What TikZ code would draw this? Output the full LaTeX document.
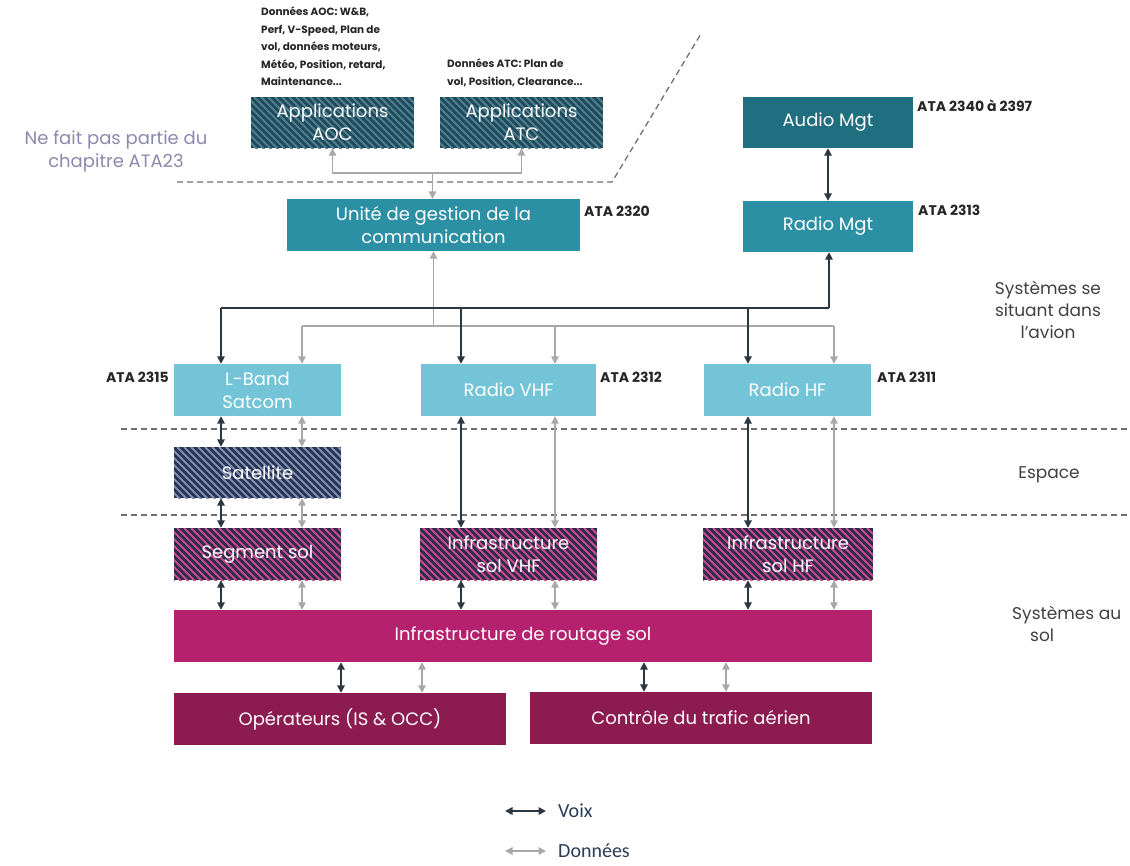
\documentclass[tikz,border=0pt]{standalone}
\usepackage{fontspec}
\setmainfont{Poppins}
\newfontfamily\legfont{Carlito}
\usetikzlibrary{arrows.meta,calc}
\definecolor{appc}{HTML}{1E4A5B}
\definecolor{appstripe}{HTML}{4F808F}
\definecolor{midteal}{HTML}{2C90A5}
\definecolor{darkteal}{HTML}{1F6F80}
\definecolor{lightc}{HTML}{74C4D8}
\definecolor{satc}{HTML}{283354}
\definecolor{satstripe}{HTML}{8090B3}
\definecolor{gndc}{HTML}{2A2B4D}
\definecolor{gndstripe}{HTML}{CC4A8C}
\definecolor{routc}{HTML}{B5216E}
\definecolor{userc}{HTML}{8C1B50}
\definecolor{voicec}{HTML}{2D3741}
\definecolor{datac}{HTML}{A8A8A8}
\definecolor{dashc}{HTML}{707070}
\definecolor{notec}{HTML}{8B89AD}
\definecolor{sidec}{HTML}{404040}
\definecolor{atac}{HTML}{262626}
\definecolor{legc}{HTML}{2B3A55}
\begin{document}
\begin{tikzpicture}[x=1pt,y=-1pt,
  >={Triangle[length=7.5pt,width=7.5pt]},
  box/.style={draw=none, text=white, align=center, inner sep=0pt,
    font=\fontsize{18}{23}\selectfont},
  hatch/.style 2 args={box, fill=#1, path picture={
      \foreach \k in {0,...,45}{
        \draw[line width=2pt, color=#2]
          ([xshift={(\k*7-60)*1pt}]path picture bounding box.north west) -- ++(60pt,-60pt);}}},
  ata/.style={font=\bfseries\fontsize{14}{16}\selectfont, text=atac, inner sep=0pt},
  side/.style={font=\fontsize{17}{22}\selectfont, text=sidec, align=center, inner sep=0pt},
  small/.style={font=\bfseries\fontsize{10.5}{17.5}\selectfont, text=atac, align=left, inner sep=0pt},
  voice/.style={draw=voicec, line width=1.7pt},
  data/.style={draw=datac, line width=1.5pt},
  sep/.style={draw=dashc, line width=1.3pt, dash pattern=on 6pt off 4pt},
  legtext/.style={font=\legfont\fontsize{20}{22}\selectfont, text=legc, inner sep=0pt, anchor=west}
]
\useasboundingbox (0,0) rectangle (1130,865);

% separators
\coordinate (s1) at (177,182);
\coordinate (s2) at (612,182);
\coordinate (s3) at (702,32);
\draw[sep] (s1) -- (s2) -- (s3);
\coordinate (s4) at (121,429);
\coordinate (s5) at (1130,429);
\coordinate (s6) at (121,515);
\coordinate (s7) at (1130,515);
\draw[sep] (s4) -- (s5);
\draw[sep] (s6) -- (s7);

% top notes
\node[small, anchor=north west] (naoc) at (261,7) {Données AOC: W\&B,\\Perf, V-Speed, Plan de\\vol, données moteurs,\\Météo, Position, retard,\\Maintenance...};
\node[small, anchor=north west] (natc) at (447,59) {Données ATC: Plan de\\vol, Position, Clearance...};
\node[font=\fontsize{18}{23}\selectfont, text=notec, align=center, inner sep=0pt] (nota) at (116,151) {Ne fait pas partie du\\chapitre ATA23};

% boxes
\node[hatch={appc}{appstripe}, minimum width=163pt, minimum height=51pt] (aoc) at (332.5,122.5) {Applications\\AOC};
\node[hatch={appc}{appstripe}, minimum width=163pt, minimum height=51pt] (atc) at (521.5,122.5) {Applications\\ATC};
\node[box, fill=midteal, minimum width=293pt, minimum height=52pt] (unite) at (433.5,225) {Unité de gestion de la\\communication};
\node[box, fill=darkteal, minimum width=170pt, minimum height=51pt] (audio) at (828,122.5) {Audio Mgt};
\node[box, fill=midteal, minimum width=170pt, minimum height=51pt] (rmgt) at (828,226.5) {Radio Mgt};

\node[box, fill=lightc, minimum width=167pt, minimum height=52pt] (lband) at (257.5,390) {L-Band\\Satcom};
\node[box, fill=lightc, minimum width=175pt, minimum height=52pt] (vhf) at (508.5,390) {Radio VHF};
\node[box, fill=lightc, minimum width=167pt, minimum height=52pt] (hf) at (787.5,390) {Radio HF};

\node[hatch={satc}{satstripe}, minimum width=167pt, minimum height=51pt] (sat) at (257.5,472.5) {Satellite};
\node[hatch={gndc}{gndstripe}, minimum width=167pt, minimum height=52pt] (seg) at (257.5,554) {Segment sol};
\node[hatch={gndc}{gndstripe}, minimum width=177pt, minimum height=52pt] (ivhf) at (508.5,554) {Infrastructure\\sol VHF};
\node[hatch={gndc}{gndstripe}, minimum width=170pt, minimum height=52pt] (ihf) at (788,554) {Infrastructure\\sol HF};

\node[box, fill=routc, minimum width=698pt, minimum height=52pt] (rout) at (523,636) {Infrastructure de routage sol};
\node[box, fill=userc, minimum width=332pt, minimum height=52pt] (oper) at (340,719) {Opérateurs (IS \& OCC)};
\node[box, fill=userc, minimum width=342pt, minimum height=52pt] (ctrl) at (701,718) {Contrôle du trafic aérien};

% ATA labels
\node[ata, anchor=west] (a2320) at (584,211) {ATA 2320};
\node[ata, anchor=west] (a2340) at (917,106) {ATA 2340 à 2397};
\node[ata, anchor=west] (a2313) at (918,210) {ATA 2313};
\node[ata, anchor=east] (a2315) at (169,377) {ATA 2315};
\node[ata, anchor=west] (a2312) at (600,377) {ATA 2312};
\node[ata, anchor=west] (a2311) at (877,377) {ATA 2311};

% side labels
\node[side] (lav) at (1048,310) {Systèmes se\\situant dans\\l'avion};
\node[side] (lesp) at (1049,475) {Espace};
\node[side, anchor=west, align=left] (lsol) at (1012,624) {Systèmes au\\\hspace*{18pt}sol};

% data links, top
\coordinate (j1) at (432.5,173);
\draw[data,->] (j1) -| (aoc.south);
\draw[data,->] (j1) -| (atc.south);
\draw[data,->] (j1) -- (j1 |- unite.north);

% voice / data links in aircraft
\draw[voice,<->] (audio.south) -- (audio.south |- rmgt.north);
\coordinate (vR) at (829,308);
\coordinate (vL) at (221,308);
\coordinate (vV) at (461,308);
\coordinate (vH) at (748,308);
\coordinate (gU) at (433.5,326);
\coordinate (gL) at (302,326);
\coordinate (gV) at (555,326);
\coordinate (gH) at (834,326);
\draw[data] (gL) -- (gH);
\draw[data,->] (gU) -- (gU |- unite.south);
\draw[data,->] (gL) -- (gL |- lband.north);
\draw[data,->] (gV) -- (gV |- vhf.north);
\draw[data,->] (gH) -- (gH |- hf.north);
\draw[voice] (vL) -- (vR);
\draw[voice,->] (vR) -- (vR |- rmgt.south);
\draw[voice,->] (vL) -- (vL |- lband.north);
\draw[voice,->] (vV) -- (vV |- vhf.north);
\draw[voice,->] (vH) -- (vH |- hf.north);

% down the stack
\draw[voice,<->] (vL |- lband.south) -- (vL |- sat.north);
\draw[data,<->] (gL |- lband.south) -- (gL |- sat.north);
\draw[voice,<->] (vL |- sat.south) -- (vL |- seg.north);
\draw[data,<->] (gL |- sat.south) -- (gL |- seg.north);
\draw[voice,<->] (vL |- seg.south) -- (vL |- rout.north);
\draw[data,<->] (gL |- seg.south) -- (gL |- rout.north);

\draw[voice,<->] (vV |- vhf.south) -- (vV |- ivhf.north);
\draw[data,<->] (gV |- vhf.south) -- (gV |- ivhf.north);
\draw[voice,<->] (vV |- ivhf.south) -- (vV |- rout.north);
\draw[data,<->] (gV |- ivhf.south) -- (gV |- rout.north);

\draw[voice,<->] (vH |- hf.south) -- (vH |- ihf.north);
\draw[data,<->] (gH |- hf.south) -- (gH |- ihf.north);
\draw[voice,<->] (vH |- ihf.south) -- (vH |- rout.north);
\draw[data,<->] (gH |- ihf.south) -- (gH |- rout.north);

% routing to users
\coordinate (o1) at (341,677);
\coordinate (o2) at (422,677);
\coordinate (c1) at (644,677);
\coordinate (c2) at (726,677);
\draw[voice,<->] (o1 |- rout.south) -- (o1 |- oper.north);
\draw[data,<->] (o2 |- rout.south) -- (o2 |- oper.north);
\draw[voice,<->] (c1 |- rout.south) -- (c1 |- ctrl.north);
\draw[data,<->] (c2 |- rout.south) -- (c2 |- ctrl.north);

% legend
\node[legtext] (lvoix) at (558,811) {Voix};
\node[legtext] (ldata) at (558,851) {Données};
\draw[voice,<->] ([xshift=-53pt]lvoix.west) -- ([xshift=-12pt]lvoix.west);
\draw[data,<->] ([xshift=-53pt]ldata.west) -- ([xshift=-12pt]ldata.west);
\end{tikzpicture}
\end{document}
